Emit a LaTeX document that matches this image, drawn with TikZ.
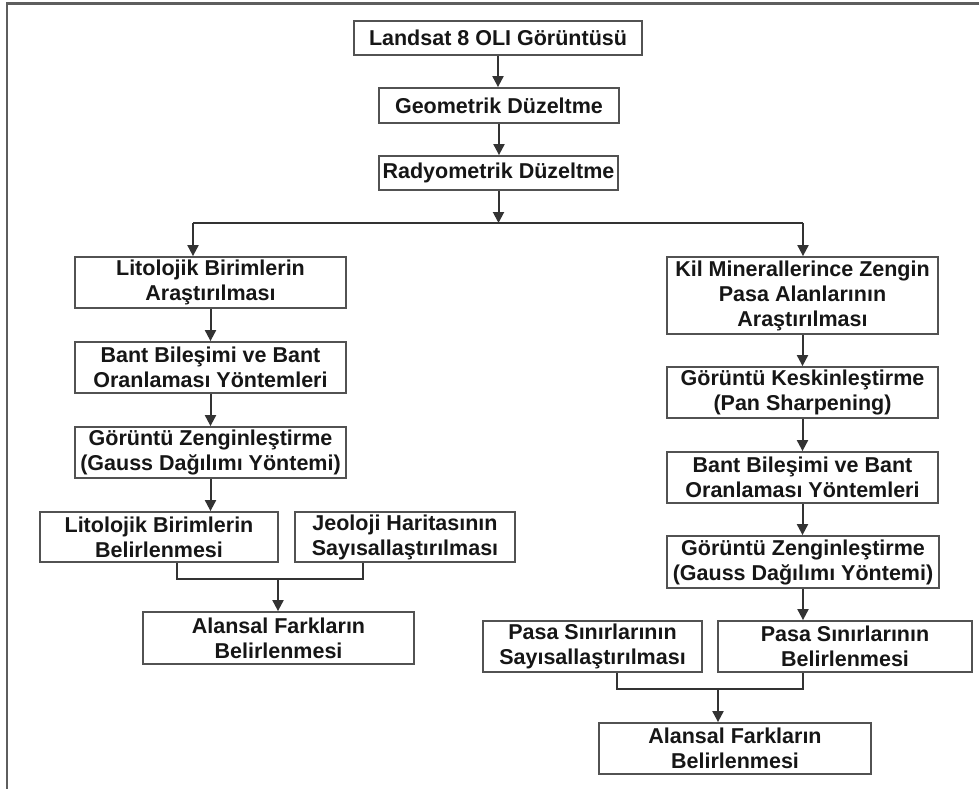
\documentclass[tikz,border=0pt]{standalone}
\usepackage{fontspec}
\setmainfont{Liberation Sans}
\usetikzlibrary{arrows.meta}

\definecolor{linegray}{HTML}{333333}
\definecolor{framegray}{HTML}{5E5E5E}
\definecolor{textgray}{HTML}{161616}

\tikzset{
  box/.style={draw=linegray!85, line width=1.8pt, fill=white, align=center,
    inner sep=0pt, text=textgray, font=\fontsize{21.5}{25}\selectfont\bfseries},
  link/.style={draw=linegray, line width=2pt},
}

\begin{document}
\begin{tikzpicture}[x=1pt, y=-1pt, >={Triangle[length=11pt, width=11pt]}]

    \clip (0,0) rectangle (979,789);
    \draw [framegray, line width=2.2pt] (7,800) |- (990,3.5);

    % boxes: name/x/y/width/height/text
    \foreach \n/\x/\y/\w/\h/\t in {
        land/498/38/288/34/{Landsat 8 OLI Görüntüsü},
        geo/499/105.5/240/35/{Geometrik Düzeltme},
        rad/498.5/173/239/34/{Radyometrik Düzeltme},
        litA/210.5/282.5/271/51/{Litolojik Birimlerin\\Araştırılması},
        bantL/210.5/367.5/271/51/{Bant Bileşimi ve Bant\\Oranlaması Yöntemleri},
        zengL/210.5/452.5/271/51/{Görüntü Zenginleştirme\\(Gauss Dağılımı Yöntemi)},
        litB/159/537/238/50/{Litolojik Birimlerin\\Belirlenmesi},
        jeo/405/537/220/50/{Jeoloji Haritasının\\Sayısallaştırılması},
        alanL/278.5/638/271/52/{Alansal Farkların\\Belirlenmesi},
        kil/802.5/295.5/271/77/{Kil Minerallerince Zengin\\Pasa Alanlarının\\Araştırılması},
        kesk/802.5/392.5/271/51/{Görüntü Keskinleştirme\\(Pan Sharpening)},
        bantR/802.5/477.5/271/51/{Bant Bileşimi ve Bant\\Oranlaması Yöntemleri},
        zengR/803/562/272/52/{Görüntü Zenginleştirme\\(Gauss Dağılımı Yöntemi)},
        pasaS/592.5/646.5/219/51/{Pasa Sınırlarının\\Sayısallaştırılması},
        pasaB/845/646.5/254/51/{Pasa Sınırlarının\\Belirlenmesi},
        alanR/735/748.5/272/51/{Alansal Farkların\\Belirlenmesi}}
      \node [box, minimum width=\w, minimum height=\h] (\n) at (\x,\y) {\t};

    % straight steps
    \foreach \a/\b in {land/geo, geo/rad, litA/bantL, bantL/zengL, zengL/litB,
                       kil/kesk, kesk/bantR, bantR/zengR, zengR/pasaB}
      \draw [link, ->] (\a.south) -- (\a.south |- \b.north);

    % split into two branches
    \coordinate (split) at (498.5,223);
    \coordinate (splitL) at (193,223);
    \coordinate (splitR) at (803,223);
    \draw [link, ->] (rad.south) -- (split);
    \draw [link] (splitL) -- (splitR);
    \draw [link, ->] (splitL) -- (splitL |- litA.north);
    \draw [link, ->] (splitR) -- (splitR |- kil.north);

    % merges
    \coordinate (mergeL) at (278,579);
    \draw [link] ([xshift=18pt]litB.south) |- (mergeL) -| ([xshift=-42pt]jeo.south);
    \draw [link, ->] (mergeL) -- (mergeL |- alanL.north);

    \coordinate (mergeR) at (718,689);
    \draw [link] ([xshift=24.5pt]pasaS.south) |- (mergeR) -| ([xshift=-42pt]pasaB.south);
    \draw [link, ->] (mergeR) -- (mergeR |- alanR.north);

\end{tikzpicture}
\end{document}
